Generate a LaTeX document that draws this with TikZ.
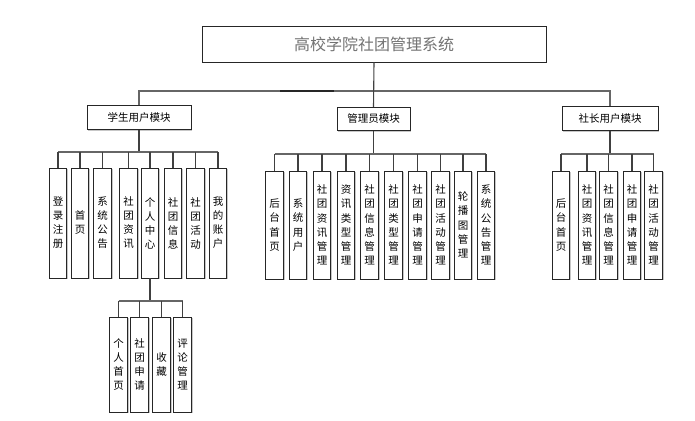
\documentclass[tikz,border=0pt]{standalone}
\usepackage{fontspec}
\setmainfont{Noto Sans CJK SC}
\usetikzlibrary{shadows}
\tikzset{
  boxbase/.style={draw=black!85, line width=0.9pt, fill=white, inner sep=0pt,
    drop shadow={shadow xshift=1.3pt, shadow yshift=-1.3pt, fill=black!22, opacity=1}},
  topbox/.style={boxbase, minimum width=344pt, minimum height=36pt,
    font=\fontsize{16}{18}\selectfont, text=black!55},
  modbox/.style={boxbase, minimum height=23.5pt, font=\fontsize{10.5}{12}\selectfont},
  leafA/.style={boxbase, minimum width=17.5pt, minimum height=110pt, align=center,
    font=\fontsize{10.5}{14}\selectfont},
  leafB/.style={boxbase, minimum width=17.5pt, minimum height=108pt, align=center,
    font=\fontsize{10.5}{14.2}\selectfont},
  leafC/.style={boxbase, minimum width=17.5pt, minimum height=95pt, align=center,
    font=\fontsize{10.5}{14}\selectfont},
  bus/.style={draw=black!60, line width=1.3pt},
  link/.style={draw=black!75, line width=1.1pt},
}
\begin{document}
\begin{tikzpicture}[x=1pt,y=-1pt]
\useasboundingbox (0,0) rectangle (695,420);

% level 0 and 1
\node[topbox] (top) at (374,44) {高校学院社团管理系统};
\node[modbox, minimum width=104pt] (m1) at (139,117.5) {学生用户模块};
\node[modbox, minimum width=73pt] (m2) at (373.5,119) {管理员模块};
\node[modbox, minimum width=96pt] (m3) at (610,118.5) {社长用户模块};

\coordinate (b0) at (374,91);
\draw[bus] (m1.north) |- (b0) -| (m3.north);
\draw[draw=black!85, line width=1.3pt] (280,91) -- (334,91);
\draw[link] (top.south) -- (m2.north);

% group 1: student
\foreach \n/\x/\t in {1/58/登\\录\\注\\册, 2/80/首\\页, 3/102.5/系\\统\\公\\告,
  4/128.5/社\\团\\资\\讯, 5/150/个\\人\\中\\心, 6/173/社\\团\\信\\息,
  7/195.5/社\\团\\活\\动, 8/218/我\\的\\账\\户}
  \node[leafA] (a\n) at (\x,223) {\t};
\coordinate (b1) at (139,152);
\draw[link] (m1.south) -- (b1);
\draw[bus] (a1.north |- b1) -- (a8.north |- b1);
\foreach \n in {1,...,8} \draw[link] (a\n.north) -- (a\n.north |- b1);

% group 4: personal centre
\foreach \n/\x/\t in {1/118.5/个\\人\\首\\页, 2/139.5/社\\团\\申\\请,
  3/161.5/收\\藏, 4/182.5/评\\论\\管\\理}
  \node[leafC] (d\n) at (\x,364.5) {\t};
\coordinate (b4) at (150,301);
\draw[link] (a5.south) -- (b4);
\draw[bus] (d1.north |- b4) -- (d4.north |- b4);
\foreach \n in {1,...,4} \draw[link] (d\n.north) -- (d\n.north |- b4);

% group 2: admin
\foreach \n/\x/\t in {1/274.5/后\\台\\首\\页, 2/298/系\\统\\用\\户,
  3/322/社\\团\\资\\讯\\管\\理, 4/346/资\\讯\\类\\型\\管\\理,
  5/369.5/社\\团\\信\\息\\管\\理, 6/393.5/社\\团\\类\\型\\管\\理,
  7/417.5/社\\团\\申\\请\\管\\理, 8/440.5/社\\团\\活\\动\\管\\理,
  9/463/轮\\播\\图\\管\\理, 10/486/系\\统\\公\\告\\管\\理}
  \node[leafB] (c\n) at (\x,225) {\t};
\coordinate (b2) at (373.5,154);
\draw[link] (m2.south) -- (b2);
\draw[bus] (c1.north |- b2) -- (c10.north |- b2);
\foreach \n in {1,...,10} \draw[link] (c\n.north) -- (c\n.north |- b2);

% group 3: club leader
\foreach \n/\x/\t in {1/561/后\\台\\首\\页, 2/587/社\\团\\资\\讯\\管\\理,
  3/608.5/社\\团\\信\\息\\管\\理, 4/632/社\\团\\申\\请\\管\\理,
  5/653.5/社\\团\\活\\动\\管\\理}
  \node[leafB] (e\n) at (\x,225) {\t};
\coordinate (b3) at (610,154);
\draw[link] (m3.south) -- (b3);
\draw[bus] (e1.north |- b3) -- (e5.north |- b3);
\foreach \n in {1,...,5} \draw[link] (e\n.north) -- (e\n.north |- b3);
\end{tikzpicture}
\end{document}
